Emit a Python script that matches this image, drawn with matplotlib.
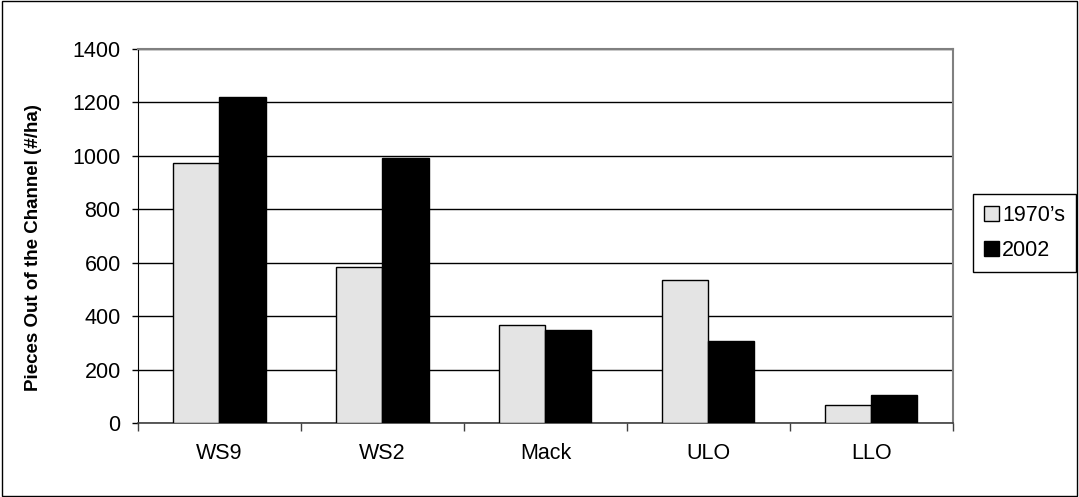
import matplotlib
matplotlib.use("Agg")
import matplotlib.pyplot as plt
import numpy as np
from matplotlib.patches import Rectangle

categories = ["WS9", "WS2", "Mack", "ULO", "LLO"]
series_names = ["1970\u2019s", "2002"]
values_1970s = [974, 583, 367, 536, 68]
values_2002 = [1221, 992, 350, 306, 105]
yticks = [0, 200, 400, 600, 800, 1000, 1200, 1400]

plt.rcParams['font.family'] = ['Liberation Sans', 'DejaVu Sans']

fig = plt.figure(figsize=(10.79, 4.97), dpi=100)
fig.patches.append(Rectangle((0.0015, 0.002), 0.997, 0.996, transform=fig.transFigure,
                             fill=False, edgecolor='black', linewidth=1.0))
ax = fig.add_axes([0.1279, 0.1483, 0.7551, 0.7537])

x = np.arange(len(categories))
w = 0.283
b1 = ax.bar(x - w/2, values_1970s, w, color='#e4e4e4', edgecolor='black', linewidth=1.0,
            label=series_names[0], zorder=3)
b2 = ax.bar(x + w/2, values_2002, w, color='black', edgecolor='black', linewidth=1.0,
            label=series_names[1], zorder=3)

ax.set_xlim(-0.5, len(categories) - 0.5)
ax.set_ylim(0, 1400)
ax.set_yticks(yticks)
ax.yaxis.grid(True, color='black', linewidth=1.0, zorder=0)
ax.set_axisbelow(True)

ax.set_xticks(x)
ax.set_xticklabels(categories, fontsize=15.5)
ax.tick_params(axis='x', which='major', length=0, pad=14)
ax.set_xticks(np.arange(len(categories) + 1) - 0.5, minor=True)
ax.tick_params(axis='x', which='minor', length=6, width=1, color='#404040', direction='out')
ax.tick_params(axis='y', labelsize=15.5, length=4.5, width=1, direction='out', pad=8)

for s in ['top', 'right']:
    ax.spines[s].set_color('#808080')
    ax.spines[s].set_linewidth(1.5)
ax.spines['left'].set_color('black')
ax.spines['bottom'].set_color('#404040')
ax.spines['bottom'].set_linewidth(1.2)

ax.set_ylabel("Pieces Out of the Channel (#/ha)", fontsize=13.5, fontweight='bold')
ax.yaxis.set_label_coords(-0.118, 0.47)

leg = fig.legend(handles=[b1, b2], labels=series_names, loc='upper left',
                 bbox_to_anchor=(973/1079, 1 - 194/497), fontsize=15.5,
                 frameon=True, fancybox=False, edgecolor='black', framealpha=1,
                 handlelength=0.7, handleheight=0.7, handletextpad=0.15,
                 borderpad=0.5, labelspacing=0.65, borderaxespad=0)
leg.get_frame().set_linewidth(1.0)

fig.savefig("out.png", dpi=100)
